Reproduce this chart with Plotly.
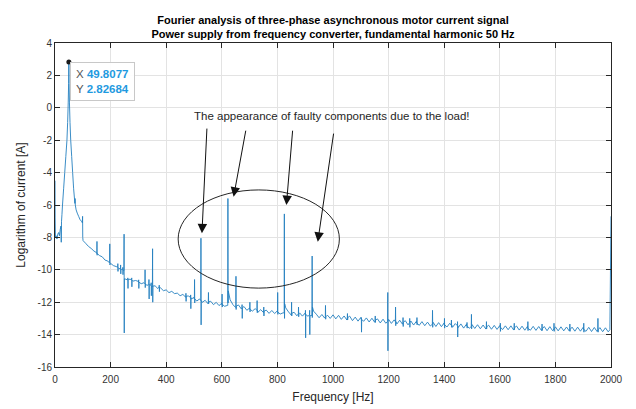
import plotly.graph_objects as go

# ---------------- data ----------------
# low-frequency part incl. fundamental peak
freq_low = [0, 0.5, 1.5, 4, 7, 10, 13, 16, 19, 21.5, 22.5, 23.5, 25, 27, 31, 35, 39, 43,
            45.5, 47.5, 49, 49.8077, 50.6, 52, 54, 56.5, 60, 63.5, 67, 71.5, 72.3, 73, 76,
            80, 85, 90, 95, 98.5, 99.2, 99.8, 101]
curr_low = [-4.5, -6.8, -8.0, -7.9, -8.1, -7.8, -7.7, -7.9, -7.5, -7.3, -8.3, -7.0, -6.6,
            -6.0, -5.0, -4.0, -3.0, -2.0, -0.9, 0.3, 1.5, 2.82684, 1.5, 0.3, -0.9, -2.0,
            -3.0, -4.0, -5.0, -5.9, -5.6, -6.0, -6.3, -6.5, -6.7, -6.9, -7.0, -7.1, -6.7,
            -8.0, -8.2]

# baseline of the spectrum, every 10 Hz from 110 to 1990 Hz
base_freq = list(range(110, 2000, 10))
base_curr = [
    -8.36, -8.55, -8.68, -8.84, -8.95, -9.12, -9.20, -9.40, -9.46,
    -9.60, -9.74, -9.80, -9.92, -9.98, -10.55, -10.62, -10.58, -10.70, -10.66,
    -10.72, -10.86, -10.80, -10.96, -10.90, -11.06, -10.99, -11.16, -11.12, -11.29,
    -11.24, -11.41, -11.33, -11.47, -11.44, -11.60, -11.52, -11.69, -11.62, -11.80,
    -11.71, -11.93, -11.80, -12.01, -11.88, -12.09, -11.94, -12.15, -12.01, -12.21,
    -12.06, -12.25, -12.20, -11.85, -12.15, -12.33, -12.17, -12.41, -12.27, -12.50,
    -12.36, -12.55, -12.40, -12.62, -12.46, -12.64, -12.49, -12.69, -12.51, -12.70,
    -12.53, -12.73, -12.66, -12.35, -12.60, -12.80, -12.62, -12.84, -12.66, -12.86,
    -12.67, -12.87, -12.84, -12.55, -12.74, -12.96, -12.76, -12.98, -12.80, -13.00,
    -12.78, -13.03, -12.81, -13.06, -12.85, -13.10, -12.86, -13.14, -12.92, -13.17,
    -12.94, -13.18, -12.97, -13.22, -12.99, -13.24, -13.03, -13.28, -13.05, -13.30,
    -13.06, -13.31, -13.09, -13.34, -13.11, -13.36, -13.14, -13.40, -13.16, -13.41,
    -13.18, -13.43, -13.20, -13.45, -13.23, -13.47, -13.24, -13.50, -13.26, -13.51,
    -13.28, -13.53, -13.30, -13.55, -13.32, -13.57, -13.34, -13.60, -13.36, -13.61,
    -13.38, -13.62, -13.39, -13.64, -13.41, -13.66, -13.42, -13.67, -13.43, -13.68,
    -13.44, -13.69, -13.46, -13.70, -13.46, -13.72, -13.47, -13.72, -13.48, -13.73,
    -13.48, -13.73, -13.49, -13.74, -13.50, -13.75, -13.50, -13.76, -13.51, -13.76,
    -13.52, -13.77, -13.52, -13.77, -13.53, -13.78, -13.54, -13.79, -13.54, -13.79,
    -13.55, -13.80, -13.55, -13.81, -13.56, -13.81, -13.57, -13.82, -13.58, -13.83,
]

# narrow spectral lines: frequency, level before, top, bottom, level after
spike_freq = [151, 197, 226, 236, 244, 248.5, 262, 276, 301, 324, 338, 346, 351, 375,
              471, 488, 502, 525, 552, 601, 622, 651, 673, 701, 727, 751, 801, 825, 851,
              876, 901, 916, 925, 973, 1052, 1102, 1152, 1197, 1225, 1252, 1276, 1302,
              1358, 1401, 1426, 1448, 1482, 1498, 1552, 1602, 1652, 1701, 1752, 1795,
              1852, 1902, 1953]
spike_before = [-9.0, -9.58, -9.84, -9.94, -10.0, -10.05, -10.6, -10.62, -10.76, -10.86,
                -10.92, -10.96, -10.98, -11.06, -11.6, -11.7, -11.8, -11.9, -11.97,
                -12.16, -12.2, -12.24, -12.32, -12.44, -12.5, -12.55, -12.62, -12.66,
                -12.66, -12.72, -12.76, -12.78, -12.8, -12.88, -12.95, -13.05, -13.1,
                -13.18, -13.2, -13.24, -13.26, -13.3, -13.36, -13.4, -13.42, -13.45,
                -13.48, -13.5, -13.52, -13.56, -13.58, -13.62, -13.64, -13.66, -13.68,
                -13.69, -13.7]
spike_top = [-8.25, -8.4, -9.62, -9.7, -9.85, -7.8, -10.5, -10.5, -10.62, -10.0, -10.6,
             -10.8, -8.7, -10.95, -11.45, -11.55, -10.6, -8.05, -11.4, -11.5, -5.6,
             -10.4, -12.15, -12.0, -11.9, -12.3, -11.4, -6.55, -12.0, -12.3, -12.5,
             -12.5, -9.15, -12.2, -12.7, -12.95, -12.85, -11.4, -12.3, -12.95, -13.0,
             -12.95, -12.5, -13.0, -13.1, -13.2, -13.25, -12.75, -13.2, -13.3, -13.3,
             -13.2, -13.35, -13.3, -13.35, -13.3, -13.0]
spike_bottom = [-9.1, -9.7, -10.1, -10.25, -10.3, -13.9, -11.15, -11.05, -11.15, -11.1,
                -11.8, -11.6, -12.0, -11.35, -11.95, -12.4, -12.05, -13.4, -12.1, -12.3,
                -12.05, -12.45, -13.0, -12.6, -12.65, -12.85, -12.75, -13.0, -12.85,
                -12.9, -14.2, -14.0, -12.95, -13.05, -13.1, -13.85, -13.25, -15.0,
                -13.45, -13.5, -13.55, -13.4, -13.55, -13.6, -13.55, -14.15, -13.6,
                -13.65, -13.65, -13.8, -13.7, -13.75, -13.75, -13.8, -13.8, -13.85,
                -13.85]
spike_after = [-9.0, -9.6, -9.86, -9.96, -10.02, -10.55, -10.6, -10.64, -10.76, -10.86,
               -10.94, -10.98, -11.0, -11.08, -11.62, -11.72, -11.8, -11.9, -11.98,
               -12.14, -11.3, -12.24, -12.34, -12.44, -12.5, -12.55, -12.62, -12.1,
               -12.68, -12.72, -12.76, -12.8, -12.3, -12.9, -12.95, -13.06, -13.1,
               -13.2, -13.2, -13.24, -13.26, -13.3, -13.36, -13.4, -13.42, -13.46,
               -13.48, -13.5, -13.52, -13.56, -13.58, -13.62, -13.64, -13.66, -13.68,
               -13.69, -13.7]

# last bins
end_freq = [1996, 2000]
end_curr = [-13.7, -6.7]

# data tip
tip_x = 49.8077
tip_y = 2.82684

x_ticks = [0, 200, 400, 600, 800, 1000, 1200, 1400, 1600, 1800, 2000]
x_tick_labels = ["0", "200", "400", "600", "800", "1000", "1200", "1400", "1600", "1800", "2000"]
y_ticks = [-16, -14, -12, -10, -8, -6, -4, -2, 0, 2, 4]
y_tick_labels = ["-16", "-14", "-12", "-10", "-8", "-6", "-4", "-2", "0", "2", "4"]

# ---------------- assemble the series ----------------
pts = list(zip(freq_low, curr_low)) + list(zip(base_freq, base_curr))
for f, b, t, bo, a in zip(spike_freq, spike_before, spike_top, spike_bottom, spike_after):
    pts += [(f - 0.6, b), (f, t), (f + 0.6, bo), (f + 1.2, a)]
pts += list(zip(end_freq, end_curr))
pts.sort(key=lambda p: p[0])
xs = [p[0] for p in pts]
ys = [p[1] for p in pts]

FONT = "Liberation Sans, Arial, sans-serif"
AX = "#262626"

fig = go.Figure()
fig.add_trace(go.Scatter(x=xs, y=ys, mode="lines",
                         line=dict(color="#2580c0", width=0.9, simplify=False),
                         hoverinfo="skip"))
fig.add_trace(go.Scatter(x=[tip_x], y=[tip_y], mode="markers",
                         marker=dict(color="#1a1a1a", size=5), hoverinfo="skip"))

# ellipse
fig.add_shape(type="circle", xref="x", yref="y", x0=443, x1=1023, y0=-11.13, y1=-5.07,
              line=dict(color=AX, width=1))

# text and arrows
fig.add_annotation(x=995, y=-0.5, xref="x", yref="y", showarrow=False,
                   text="The appearance of faulty components due to the load!",
                   font=dict(family=FONT, size=11.5, color=AX))
arrows = [((546.7, -1.19), (528.6, -7.75)),
          ((687.2, -1.32), (642.5, -5.49)),
          ((855.1, -1.32), (832.4, -6.0)),
          ((1002.9, -1.5), (945.2, -8.27))]
for (tx, ty), (hx, hy) in arrows:
    fig.add_annotation(x=hx, y=hy, ax=tx, ay=ty, xref="x", yref="y", axref="x", ayref="y",
                       text="", showarrow=True, arrowhead=2, arrowsize=1.9, arrowwidth=1,
                       arrowcolor="#111111")

# data tip box
fig.add_annotation(xref="paper", yref="paper", x=0.027, y=0.942, xanchor="left", yanchor="top",
                   showarrow=False, align="left",
                   text=("<span style='color:#555555'>X</span> <b><span style='color:#1f9ae0'>%s</span></b><br>"
                         "<span style='color:#555555'>Y</span> <b><span style='color:#1f9ae0'>%s</span></b>")
                        % (f"{tip_x:g}", f"{tip_y:g}"),
                   font=dict(family=FONT, size=11.5),
                   bgcolor="rgba(255,255,255,0.92)", bordercolor="#c8c8c8", borderwidth=1,
                   borderpad=5)

axis_common = dict(showgrid=True, gridcolor="#e3e3e3", gridwidth=1, zeroline=False,
                   showline=True, linecolor=AX, linewidth=1, mirror="ticks",
                   ticks="inside", ticklen=5, tickcolor=AX, tickwidth=1, automargin=False,
                   tickfont=dict(family=FONT, size=10, color="#333333"))

# the page body adds an 8 px offset, so the figure is 8 px smaller and shifted
fig.update_layout(
    width=628, height=401,
    margin=dict(l=47, r=25, t=35, b=42),
    paper_bgcolor="white", plot_bgcolor="white", showlegend=False,
    font=dict(family=FONT, color=AX),
    title=dict(text="<b>Fourier analysis of three-phase asynchronous motor current signal<br>"
                    "Power supply from frequency converter, fundamental harmonic 50 Hz</b>",
               x=0.5, xref="paper", xanchor="center", y=1 - 15.5 / 401, yanchor="middle",
               font=dict(family=FONT, size=11, color="#000000")),
    xaxis=dict(range=[0, 2000], tickvals=x_ticks, ticktext=x_tick_labels, ticklabelstandoff=3,
               title=dict(text="Frequency [Hz]", standoff=8,
                          font=dict(family=FONT, size=12, color=AX)),
               **axis_common),
    yaxis=dict(range=[-16, 4], tickvals=y_ticks, ticktext=y_tick_labels,
               title=dict(text="Logarithm of current [A]", standoff=9,
                          font=dict(family=FONT, size=12, color=AX)),
               **axis_common),
)

fig.write_html("out.html")
